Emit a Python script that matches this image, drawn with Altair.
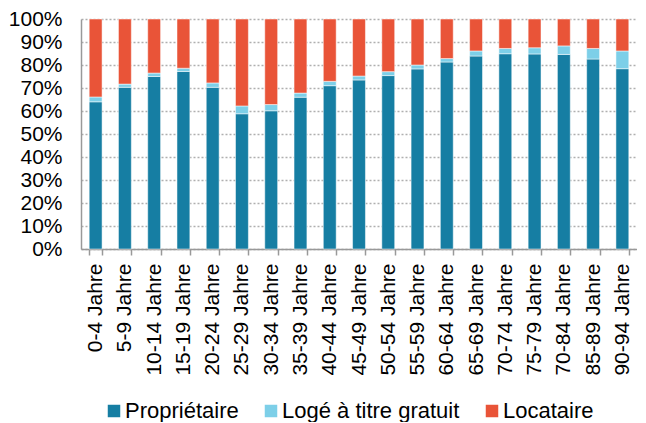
import altair as alt
import pandas as pd

categories = ["0-4 Jahre", "5-9 Jahre", "10-14 Jahre", "15-19 Jahre", "20-24 Jahre",
              "25-29 Jahre", "30-34 Jahre", "35-39 Jahre", "40-44 Jahre", "45-49 Jahre",
              "50-54 Jahre", "55-59 Jahre", "60-64 Jahre", "65-69 Jahre", "70-74 Jahre",
              "75-79 Jahre", "70-84 Jahre", "85-89 Jahre", "90-94 Jahre"]
proprietaire = [64.0, 70.3, 75.0, 77.2, 70.3, 58.8, 60.1, 66.0, 71.0, 73.5,
                75.4, 78.3, 81.3, 83.9, 84.9, 84.8, 84.6, 82.6, 78.4]
loge_gratuit = [2.1, 1.4, 1.5, 1.4, 1.9, 3.4, 2.7, 1.8, 1.9, 1.7,
                1.7, 1.7, 1.5, 2.2, 2.3, 2.7, 3.7, 4.6, 7.7]
locataire = [33.9, 28.3, 23.5, 21.4, 27.8, 37.8, 37.2, 32.2, 27.1, 24.8,
             22.9, 20.0, 17.2, 13.9, 12.8, 12.5, 11.7, 12.8, 13.9]

series = ["Propriétaire", "Logé à titre gratuit", "Locataire"]
colors = ["#167EA3", "#7DCFE8", "#E95438"]

rows = []
for i, c in enumerate(categories):
    for k, (s, vals) in enumerate(zip(series, [proprietaire, loge_gratuit, locataire])):
        rows.append({"cat": c, "series": s, "value": vals[i], "ord": k})
df = pd.DataFrame(rows)

FONT = "Liberation Sans"

chart = alt.Chart(df).mark_bar(stroke="white", strokeWidth=0.5).encode(
    x=alt.X("cat:N", sort=categories, title=None,
            scale=alt.Scale(paddingInner=0.56, paddingOuter=0.28),
            axis=alt.Axis(labelAngle=-90, labelFontSize=21, labelFont=FONT, labelColor="black",
                          domainColor="#999999", domainWidth=1.5, tickColor="#999999",
                          tickWidth=1.5, tickSize=6, tickBand="extent", labelPadding=8)),
    y=alt.Y("value:Q", stack="normalize", title=None,
            scale=alt.Scale(domain=[0, 1]),
            axis=alt.Axis(format=".0%", values=[i / 10 for i in range(11)],
                          labelFontSize=21, labelFont=FONT, labelColor="black",
                          ticks=False, labelPadding=19, domainColor="#999999", domainWidth=1.5,
                          grid=True, gridColor="#AFAFAF", gridDash=[2, 2], gridWidth=1.3)),
    color=alt.Color("series:N", sort=series,
                    scale=alt.Scale(domain=series, range=colors),
                    legend=alt.Legend(title=None, orient="none", direction="horizontal",
                                      legendX=22, legendY=381, symbolType="square",
                                      symbolSize=156, symbolStrokeWidth=0,
                                      labelFontSize=22, labelFont=FONT, labelColor="black",
                                      labelOffset=0, columnPadding=21, labelLimit=400)),
    order=alt.Order("ord:Q", sort="ascending"),
).properties(
    width=556, height=230, padding={"left": 0, "top": 0, "right": 0, "bottom": 0}
).configure_view(stroke=None)

chart.save("out.html", embed_options={"renderer": "svg", "actions": False})
